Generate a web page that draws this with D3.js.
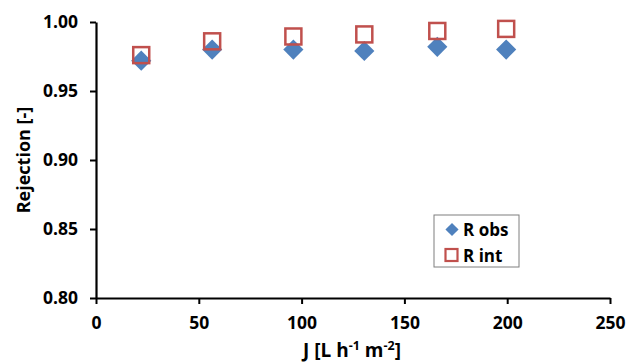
<!DOCTYPE html>
<html>
<head>
<meta charset="utf-8">
<script src="https://cdn.jsdelivr.net/npm/d3@7"></script>
<style>
  body { margin: 0; background: #fff; }
  svg text { font-family: "Open Sans", sans-serif; font-weight: bold; fill: #000; }
</style>
</head>
<body>
<div id="chart"></div>
<script>
// flux values and the two rejection series
const flux = [22, 56.5, 96, 130.5, 166, 199.5];
const rObs = [0.972, 0.980, 0.980, 0.979, 0.982, 0.980];
const rInt = [0.976, 0.986, 0.9895, 0.991, 0.9935, 0.995];
const xTicks = [0, 50, 100, 150, 200, 250];
const yTicks = [0.80, 0.85, 0.90, 0.95, 1.00];
const legendNames = ["R obs", "R int"];

const width = 629, height = 362;
const margin = {top: 22, right: 19, bottom: 64, left: 96};

const svg = d3.select("#chart").append("svg")
    .attr("width", width).attr("height", height);

const x = d3.scaleLinear().domain([0, 250]).range([margin.left, width - margin.right]);
const y = d3.scaleLinear().domain([0.8, 1.0]).range([height - margin.bottom, margin.top]);

// x axis
const gx = svg.append("g")
    .attr("transform", `translate(0,${y(0.8)})`)
    .call(d3.axisBottom(x).tickValues(xTicks).tickSize(6).tickPadding(13).tickSizeOuter(0));
// y axis
const gy = svg.append("g")
    .attr("transform", `translate(${x(0)},0)`)
    .call(d3.axisLeft(y).tickValues(yTicks).tickFormat(d3.format(".2f")).tickSize(6).tickPadding(12).tickSizeOuter(0));

[gx, gy].forEach(g => {
    g.select(".domain").attr("stroke", "#000").attr("stroke-width", 2.2);
    g.selectAll(".tick line").attr("stroke", "#000").attr("stroke-width", 2);
    g.selectAll(".tick text").style("font-size", "17.5px").style("font-family", "Open Sans").style("font-weight", "bold");
});

// axis titles
svg.append("text")
    .attr("transform", `translate(30,${(y(0.8) + y(1)) / 2}) rotate(-90)`)
    .attr("text-anchor", "middle")
    .style("font-size", "18px")
    .text("Rejection [-]");

const xt = svg.append("text")
    .attr("x", 352).attr("y", 357)
    .attr("text-anchor", "middle")
    .style("font-size", "19px");
xt.append("tspan").text("J [L h");
xt.append("tspan").attr("dy", -7).style("font-size", "12.5px").text("-1");
xt.append("tspan").attr("dy", 7).text(" m");
xt.append("tspan").attr("dy", -7).style("font-size", "12.5px").text("-2");
xt.append("tspan").attr("dy", 7).text("]");

// markers
const diamond = d3.symbol().type(d3.symbolDiamond2).size(260);
const obs = flux.map((f, i) => ({f: f, v: rObs[i]}));
const int = flux.map((f, i) => ({f: f, v: rInt[i]}));

svg.append("g").selectAll("path").data(obs).join("path")
    .attr("transform", d => `translate(${x(d.f)},${y(d.v)})`)
    .attr("d", diamond)
    .attr("fill", "#4f81bd");

svg.append("g").selectAll("rect").data(int).join("rect")
    .attr("x", d => x(d.f) - 8).attr("y", d => y(d.v) - 8)
    .attr("width", 16).attr("height", 16)
    .attr("fill", "none").attr("stroke", "#c0504d").attr("stroke-width", 2.5);

// legend
const lg = svg.append("g").attr("transform", "translate(434,215)");
lg.append("rect").attr("width", 85).attr("height", 52)
    .attr("fill", "#fff").attr("stroke", "#7f7f7f").attr("stroke-width", 1);
lg.append("path").attr("transform", "translate(18,14.5)")
    .attr("d", d3.symbol().type(d3.symbolDiamond2).size(110)).attr("fill", "#4f81bd");
lg.append("rect").attr("x", 11.5).attr("y", 34).attr("width", 12).attr("height", 12)
    .attr("fill", "none").attr("stroke", "#c0504d").attr("stroke-width", 2.2);
lg.selectAll("text.leg").data(legendNames).join("text")
    .attr("class", "leg")
    .attr("x", 29).attr("y", (d, i) => 20.5 + i * 26)
    .style("font-size", "17px")
    .text(d => d);
</script>
</body>
</html>
